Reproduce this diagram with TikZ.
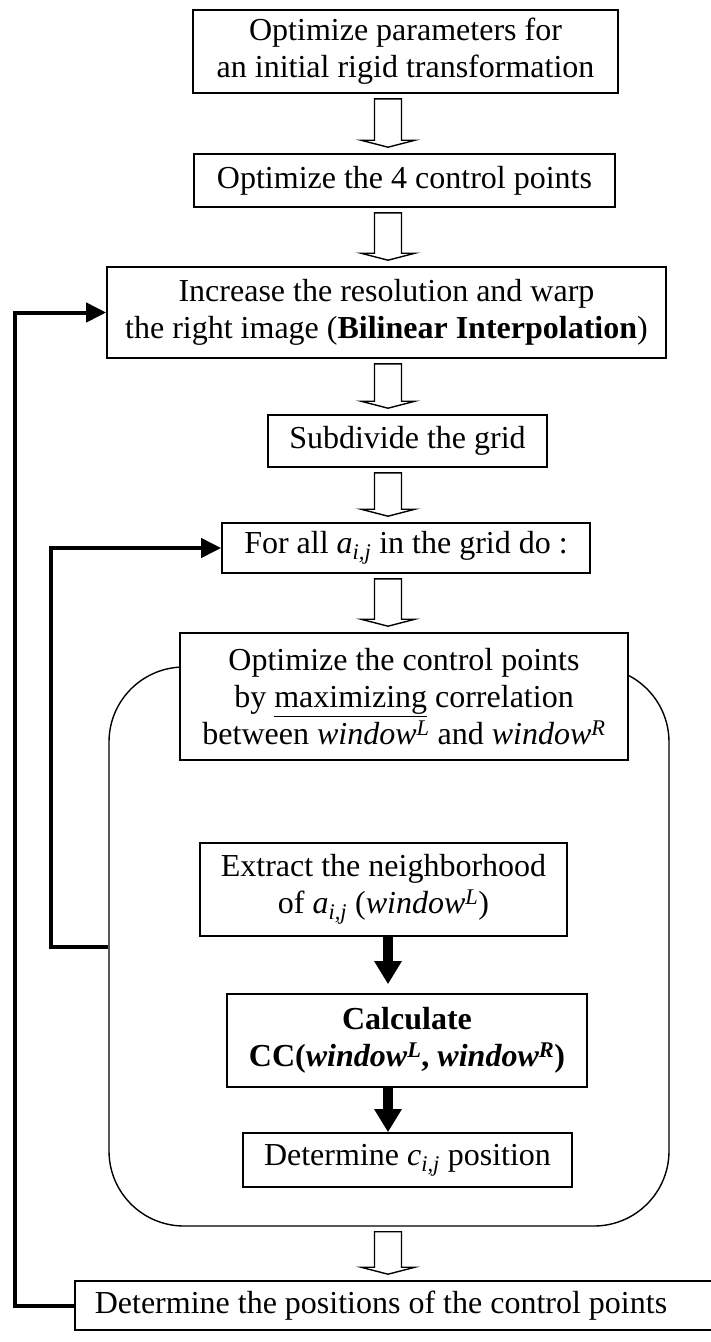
\documentclass[tikz,border=0pt]{standalone}
\usepackage{fontspec}
\setmainfont{Liberation Serif}
\usetikzlibrary{arrows.meta,calc}

\newcommand{\hollowarrow}[2]{%
  \draw[hollow] ($(#1.south -| axis)+(-13.5,5)$) -- ($(#1.south -| axis)+(13.5,5)$)
    -- ($(#2.north -| axis)+(13.5,-13)$) -- ($(#2.north -| axis)+(27,-13)$)
    -- ($(#2.north -| axis)+(0,-6)$) -- ($(#2.north -| axis)+(-27,-13)$)
    -- ($(#2.north -| axis)+(-13.5,-13)$) -- cycle;}

\begin{document}
\begin{tikzpicture}[x=1pt, y=-1pt,
    font=\fontsize{32}{37}\selectfont,
    stepbox/.style={draw, line width=1.6pt, fill=white, align=center, inner sep=0pt},
    loopbox/.style={draw, line width=1.4pt, rounded corners=75pt},
    hollow/.style={draw, line width=1.4pt, fill=white},
    feedback/.style={line width=4pt, -{Triangle[length=20pt,width=19pt]}},
    solidarrow/.style={line width=10pt, -{Triangle[length=23pt,width=26pt]}}]
    \useasboundingbox (0,0) rectangle (711,1342);
    \coordinate (axis) at (388,0);

    \node[loopbox, minimum width=560, minimum height=559] (loop) at (389,946.5) {};

    \node[stepbox, minimum width=425, minimum height=83] (opt) at (405.5,51.5)
        {Optimize parameters for\\an initial rigid transformation};
    \node[stepbox, minimum width=421, minimum height=53] (four) at (404.5,180.5)
        {Optimize the 4 control points};
    \node[stepbox, minimum width=559, minimum height=91] (incr) at (386.5,312.5)
        {Increase the resolution and warp\\the right image (\textbf{Bilinear Interpolation})};
    \node[stepbox, minimum width=279, minimum height=52] (subdiv) at (407.5,441)
        {Subdivide the grid};
    \node[stepbox, minimum width=368, minimum height=50] (forall) at (406,548)
        {For all \textit{a}\textsubscript{\textit{i,j}} in the grid do :};
    \node[stepbox, minimum width=448, minimum height=127] (maxcorr) at (404,696.5)
        {Optimize the control points\\by \underline{maximizing} correlation\\between \textit{window}\textsuperscript{\textit{L}} and \textit{window}\textsuperscript{\textit{R}}};
    \node[stepbox, minimum width=367, minimum height=93] (extract) at (383.5,889.5)
        {Extract the neighborhood\\of \textit{a}\textsubscript{\textit{i,j}} (\textit{window}\textsuperscript{\textit{L}})};
    \node[stepbox, minimum width=360, minimum height=93] (calc) at (407,1040.5)
        {\textbf{Calculate}\\\textbf{CC(\textit{window}\textsuperscript{\textit{L}}, \textit{window}\textsuperscript{\textit{R}})}};
    \node[stepbox, minimum width=329, minimum height=54] (detcij) at (407.5,1160)
        {Determine \textit{c}\textsubscript{\textit{i,j}} position};
    \node[stepbox, anchor=west, inner xsep=20pt, minimum height=49] (detpos) at (74,1305.5)
        {\makebox[720pt][l]{Determine the positions of the control points}};

    \hollowarrow{opt}{four}
    \hollowarrow{four}{incr}
    \hollowarrow{incr}{subdiv}
    \hollowarrow{subdiv}{forall}
    \hollowarrow{forall}{maxcorr}
    \hollowarrow{loop}{detpos}

    \draw[solidarrow, shorten >=9pt] (extract.south -| axis) -- (calc.north -| axis);
    \draw[solidarrow] (calc.south -| axis) -- (detcij.north -| axis);

    \draw[feedback] (detpos.west) -- ++(-59,0) |- (incr.west);
    \draw[feedback] (loop.west) -- ++(-57,0) |- (forall.west);
\end{tikzpicture}
\end{document}
